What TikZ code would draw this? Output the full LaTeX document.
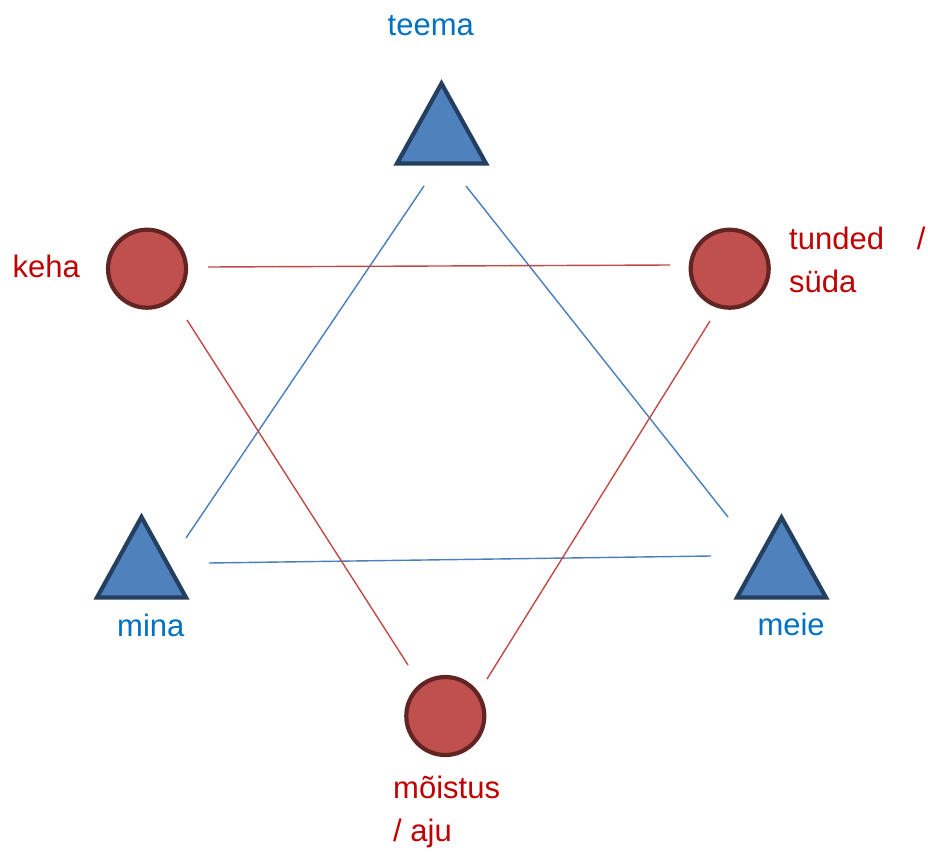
\documentclass[tikz,border=0pt]{standalone}
\usepackage{fontspec}
\setmainfont{Liberation Sans}
\definecolor{cfill}{HTML}{C0504D}
\definecolor{cdraw}{HTML}{632523}
\definecolor{tfill}{HTML}{4F81BD}
\definecolor{tdraw}{HTML}{243F60}
\definecolor{tblue}{HTML}{0070C0}
\definecolor{tred}{HTML}{C00000}
\definecolor{lblue}{HTML}{4A7EBB}
\definecolor{lred}{HTML}{BE4B48}
\begin{document}
\begin{tikzpicture}[x=1pt,y=-1pt,
  dot/.style={circle,draw=cdraw,fill=cfill,line width=4.2pt,inner sep=0pt,minimum size=78pt},
  tri/.style={draw=tdraw,fill=tfill,line width=4.2pt,line join=miter},
  lab/.style={anchor=base west,inner sep=0pt,font=\fontsize{31}{43}\selectfont,align=left},
  blab/.style={lab,text=tblue},
  rlab/.style={lab,text=tred},
  bline/.style={draw=lblue,line width=1.4pt},
  rline/.style={draw=lred,line width=1.4pt}]
\useasboundingbox (0,0) rectangle (928,851);
% triangles
\path[tri] (441.5,83.5) -- (486,163.5) -- (397,163.5) -- cycle;
\path[tri] (141.5,517) -- (186,597.5) -- (97,597.5) -- cycle;
\path[tri] (781.5,517.5) -- (826,597.5) -- (737,597.5) -- cycle;
\coordinate (teema) at (441.5,127);
\coordinate (mina) at (141.5,561);
\coordinate (meie) at (781.5,561);
% circles
\node[dot] (keha) at (147,268.7) {};
\node[dot] (tunded) at (729.7,268.7) {};
\node[dot] (moistus) at (445.3,716) {};
% labels
\node[blab] (lteema) at (387.5,35.5) {teema};
\node[rlab] (lkeha) at (12.5,277.3) {keha};
\node[rlab] (ltunded) at (789,292.5) {tunded\hspace{33pt}/\\süda};
\node[blab] (lmina) at (117,636.7) {mina};
\node[blab] (lmeie) at (757.3,635) {meie};
\node[rlab] (lmoistus) at (393,841.7) {mõistus\\/ aju};
% line ends
\coordinate (a1) at (424,186); \coordinate (a2) at (186,538);
\coordinate (b1) at (466,186); \coordinate (b2) at (728,517);
\coordinate (c1) at (209,563); \coordinate (c2) at (711,556);
\coordinate (d1) at (208,267); \coordinate (d2) at (670,265);
\coordinate (e1) at (187,320); \coordinate (e2) at (408,665);
\coordinate (f1) at (710,321); \coordinate (f2) at (487,679);
\draw[bline] (a1) -- (a2);
\draw[bline] (b1) -- (b2);
\draw[bline] (c1) -- (c2);
\draw[rline] (d1) -- (d2);
\draw[rline] (e1) -- (e2);
\draw[rline] (f1) -- (f2);
\end{tikzpicture}
\end{document}
